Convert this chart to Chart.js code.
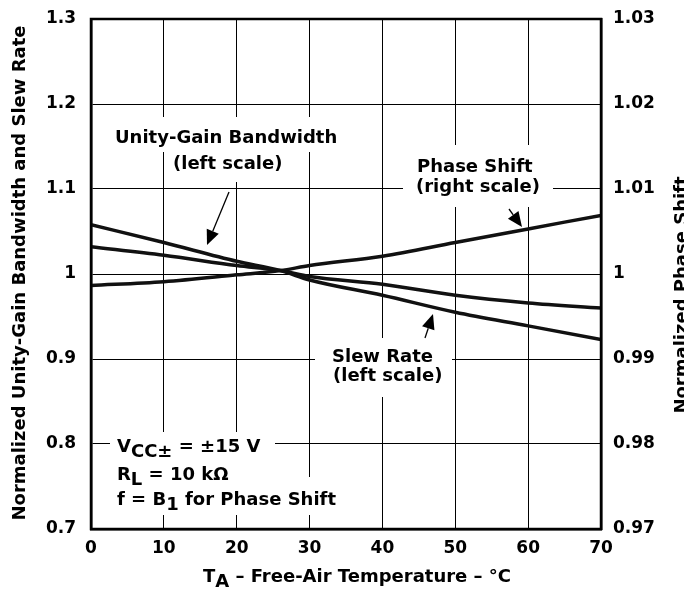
<!DOCTYPE html>
<html>
<head>
<meta charset="utf-8">
<script src="https://cdn.jsdelivr.net/npm/chart.js@4/dist/chart.umd.min.js"></script>
<style>
  html, body { margin: 0; padding: 0; background: #fff; }
  #wrap { width: 684px; height: 589px; position: relative; }
</style>
</head>
<body>
<div id="wrap"><canvas id="chart"></canvas></div>
<script>
// ---- data ----
var temps = [0, 10, 20, 26, 30, 40, 50, 60, 70];
var ugbValues = [1.058, 1.037, 1.015, 1.004, 0.993, 0.975, 0.955, 0.939, 0.923];
var slewValues = [1.032, 1.022, 1.010, 1.004, 0.997, 0.988, 0.975, 0.966, 0.960];
var phaseValues = [0.99865, 0.9991, 0.9999, 1.0004, 1.0010, 1.0021, 1.0037, 1.0053, 1.0069];

var xTicks = [0, 10, 20, 30, 40, 50, 60, 70];
var leftTicks = [0.7, 0.8, 0.9, 1.0, 1.1, 1.2, 1.3];
var rightTicks = [0.97, 0.98, 0.99, 1.0, 1.01, 1.02, 1.03];

var FONT = "'DejaVu Sans', sans-serif";

function pts(ys) {
    return temps.map(function(t, i) { return { x: t, y: ys[i] }; });
}
function fmt(v) {
    return String(Number(v.toFixed(3)));
}

// text pieces: [text, isSub]
function runsWidth(ctx, runs, size) {
    var w = 0;
    runs.forEach(function(r) {
        ctx.font = "bold " + size + "px " + FONT;
        w += ctx.measureText(r[0]).width;
    });
    return w;
}
function drawRuns(ctx, x, y, runs, size) {
    runs.forEach(function(r) {
        ctx.font = "bold " + size + "px " + FONT;
        ctx.fillText(r[0], x, r[1] ? y + 5 : y);
        x += ctx.measureText(r[0]).width;
    });
}

function arrow(ctx, x1, y1, x2, y2) {
    var a = Math.atan2(y2 - y1, x2 - x1);
    var len = 15, w = 6.5;
    var bx = x2 - len * Math.cos(a), by = y2 - len * Math.sin(a);
    ctx.lineWidth = 1.3;
    ctx.beginPath();
    ctx.moveTo(x1, y1);
    ctx.lineTo(bx, by);
    ctx.stroke();
    ctx.beginPath();
    ctx.moveTo(x2, y2);
    ctx.lineTo(bx + w * Math.sin(a), by - w * Math.cos(a));
    ctx.lineTo(bx - w * Math.sin(a), by + w * Math.cos(a));
    ctx.closePath();
    ctx.fill();
}

// white boxes behind the labels (they cut the grid)
var boxes = [
    [108, 117, 235, 35],   // Unity-Gain Bandwidth
    [165, 152, 120, 30],   // (left scale)
    [403, 145, 150, 62],   // Phase Shift (right scale)
    [315, 338, 137, 59],   // Slew Rate (left scale)
    [110, 432, 165, 28],   // Vcc
    [110, 458, 130, 22],   // RL
    [110, 477, 227, 38]    // f = B1
];

var notes = {
    id: 'notes',
    beforeDatasetsDraw: function(chart) {
        var ctx = chart.ctx;
        ctx.save();
        ctx.fillStyle = '#fff';
        boxes.forEach(function(b) { ctx.fillRect(b[0], b[1], b[2], b[3]); });
        ctx.restore();
    },
    afterDraw: function(chart) {
        var ctx = chart.ctx;
        var a = chart.chartArea;
        ctx.save();
        ctx.fillStyle = '#000';
        ctx.strokeStyle = '#000';
        ctx.textBaseline = 'alphabetic';
        ctx.textAlign = 'left';

        // frame
        ctx.lineWidth = 2.5;
        ctx.strokeRect(a.left, a.top, a.right - a.left, a.bottom - a.top);

        ctx.font = "bold 18px " + FONT;
        ctx.fillText('Unity-Gain Bandwidth', 115, 143);
        ctx.fillText('(left scale)', 173, 169);
        ctx.fillText('Phase Shift', 417, 172);
        ctx.fillText('(right scale)', 416, 192);
        ctx.fillText('Slew Rate', 332, 362);
        ctx.fillText('(left scale)', 333, 381);

        drawRuns(ctx, 117, 452, [['V', 0], ['CC\u00b1', 1], [' = \u00b115 V', 0]], 18);
        drawRuns(ctx, 117, 480, [['R', 0], ['L', 1], [' = 10 k\u03a9', 0]], 18);
        drawRuns(ctx, 117, 505, [['f = B', 0], ['1', 1], [' for Phase Shift', 0]], 18);

        arrow(ctx, 229, 192, 207, 245);
        arrow(ctx, 509, 209, 522, 227);
        arrow(ctx, 425, 338, 433, 314);

        // x title
        var xt = [['T', 0], ['A', 1], [' \u2013 Free-Air Temperature \u2013 \u00b0C', 0]];
        var wT = runsWidth(ctx, xt, 18);
        drawRuns(ctx, 357 - wT / 2, 582, xt, 18);

        // y titles
        ctx.textAlign = 'center';
        ctx.font = "bold 18px " + FONT;
        ctx.save();
        ctx.translate(25, 273);
        ctx.rotate(-Math.PI / 2);
        ctx.fillText('Normalized Unity-Gain Bandwidth and Slew Rate', 0, 0);
        ctx.restore();
        ctx.save();
        ctx.translate(687, 295);
        ctx.rotate(-Math.PI / 2);
        ctx.fillText('Normalized Phase Shift', 0, 0);
        ctx.restore();

        ctx.restore();
    }
};

var tickFont = { family: FONT, size: 17, weight: 'bold' };

var lineStyle = {
    borderColor: '#111',
    borderWidth: 3.5,
    pointRadius: 0,
    fill: false,
    cubicInterpolationMode: 'monotone'
};

function noPad(s) {
    s.paddingTop = 0; s.paddingBottom = 0;
}

var chrt = document.getElementById('chart').getContext('2d');
var config = {
    type: 'line',
    data: {
        datasets: [
            Object.assign({ label: 'Unity-Gain Bandwidth', data: pts(ugbValues), yAxisID: 'y' }, lineStyle),
            Object.assign({ label: 'Slew Rate', data: pts(slewValues), yAxisID: 'y' }, lineStyle),
            Object.assign({ label: 'Phase Shift', data: pts(phaseValues), yAxisID: 'y2' }, lineStyle)
        ]
    },
    options: {
        responsive: true,
        maintainAspectRatio: false,
        animation: false,
        layout: { padding: { top: 19, left: 0, right: 0, bottom: 0 } },
        plugins: { legend: { display: false }, tooltip: { enabled: false } },
        scales: {
            x: {
                type: 'linear', min: 0, max: 70,
                afterFit: function(s) { s.height = 60; s.paddingLeft = 0; s.paddingRight = 0; },
                afterBuildTicks: function(s) { s.ticks = xTicks.map(function(v) { return { value: v }; }); },
                grid: { color: '#000', lineWidth: 1, drawTicks: false },
                border: { color: '#000', width: 2.5 },
                ticks: { color: '#000', font: tickFont, padding: 9, maxRotation: 0 }
            },
            y: {
                position: 'left', min: 0.7, max: 1.3,
                afterFit: function(s) { s.width = 91; noPad(s); },
                afterBuildTicks: function(s) { s.ticks = leftTicks.map(function(v) { return { value: v }; }); },
                grid: { color: '#000', lineWidth: 1, drawTicks: false },
                border: { color: '#000', width: 2.5 },
                ticks: { color: '#000', font: tickFont, padding: 15, callback: function(v) { return fmt(v); } }
            },
            y2: {
                position: 'right', min: 0.97, max: 1.03,
                afterFit: function(s) { s.width = 83; noPad(s); },
                afterBuildTicks: function(s) { s.ticks = rightTicks.map(function(v) { return { value: v }; }); },
                grid: { display: false, drawTicks: false },
                border: { color: '#000', width: 2.5 },
                ticks: { color: '#000', font: tickFont, padding: 12, callback: function(v) { return fmt(v); } }
            }
        }
    },
    plugins: [notes]
};

var chart = new Chart(chrt, config);
</script>
</body>
</html>
